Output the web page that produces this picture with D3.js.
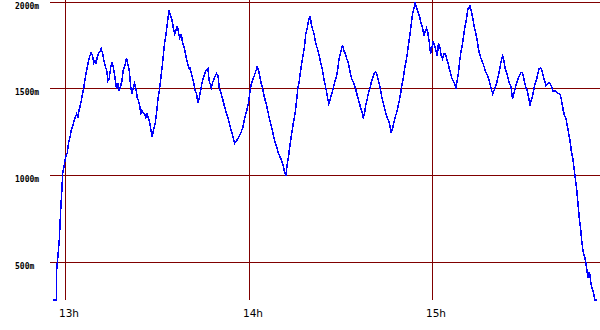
<!DOCTYPE html>
<html><head><meta charset="utf-8">
<script src="https://cdn.jsdelivr.net/npm/d3@7"></script>
<style>body{margin:0;background:#fff;overflow:hidden}</style>
</head><body>
<svg id="c" width="600" height="330"></svg>
<script>
// time in minutes after 12:00, altitude in metres
const times = [
55.9,57.1,57.1,57.5,58.0,58.4,58.9,59.1,59.5,59.9,60.2,60.6,61.0,61.5,61.9,62.6,63.2,63.7,64.1,64.3,
64.7,65.2,65.6,66.0,66.5,67.1,67.6,68.0,68.4,68.9,69.3,69.7,70.0,70.4,70.9,71.3,71.7,72.2,72.6,73.0,
73.5,73.9,74.3,74.8,75.2,75.6,76.1,76.5,76.7,77.2,77.6,78.1,78.5,78.9,79.6,80.0,80.4,80.9,81.3,81.7,
82.2,82.6,83.1,83.5,83.9,84.4,84.6,85.0,85.4,85.9,86.3,86.7,87.2,87.6,88.1,88.4,88.9,89.4,89.8,90.2,
90.7,91.1,91.6,92.0,92.4,92.9,93.3,93.7,93.9,94.4,94.8,95.3,95.7,96.1,96.6,97.0,97.4,97.9,98.3,98.7,
99.2,99.6,100.1,100.5,
100.7,101.4,102.0,102.4,102.9,103.3,103.8,104.2,104.6,105.3,105.9,106.6,107.0,107.7,108.1,108.6,109.0,109.4,109.9,110.3,
110.8,111.4,112.1,112.7,113.4,114.0,114.7,115.3,116.0,116.6,117.3,118.0,118.6,119.3,119.9,120.3,120.8,121.4,122.1,122.7,
123.2,123.8,124.5,125.1,125.8,126.5,127.1,127.8,128.4,129.1,129.7,130.4,131.0,131.7,132.1,132.5,133.0,133.4,133.8,134.5,
135.1,135.6,136.0,136.5,136.9,137.3,137.8,138.2,138.6,139.1,139.5,140.0,140.4,140.8,141.3,141.9,142.6,143.2,143.9,144.5,
145.2,145.6,146.1,146.5,
146.9,147.4,147.8,148.2,148.7,149.1,149.5,150.0,150.4,150.6,151.1,151.5,152.0,152.6,153.0,153.5,153.9,154.3,154.8,155.2,
155.6,156.1,156.5,157.0,157.4,157.8,158.3,158.7,159.1,159.6,160.0,160.5,160.9,161.3,161.8,162.2,162.6,163.1,163.5,163.9,
164.4,164.8,165.2,165.7,166.1,166.5,167.0,167.4,167.8,168.3,168.7,169.2,169.6,170.0,170.5,170.9,171.3,171.8,172.2,172.7,
173.1,173.5,174.0,174.3,174.6,175.0,175.5,175.9,176.3,176.8,177.2,177.7,178.1,178.5,179.0,179.4,179.8,180.3,180.7,181.2,
181.6,182.0,182.5,182.9,183.3,183.8,184.2,184.7,185.1,185.5,186.0,186.4,186.8,187.3,187.7,188.1,188.6,189.0,189.4,189.9,
190.3,190.7,191.2,191.6,192.0,
192.3,192.7,193.2,193.6,194.0,194.5,194.9,195.3,195.8,196.2,196.6,197.1,197.5,197.9,198.4,198.8,199.2,199.7,200.1,200.5,
201.0,201.4,201.9,202.3,202.7,203.0,203.4,203.8,204.3,204.7,205.1,205.6,206.0,206.2,206.7,207.1,207.5,208.0,208.4,208.9,
209.3,209.7,210.2,210.6,211.0,211.5,211.9,212.3,212.8,213.2,213.6,214.1,214.5,214.9,215.4,215.8,216.2,216.7,217.1,217.6,
218.0,218.4,218.9,219.3,219.7,220.2,220.6,221.1,221.5,221.9,222.4,222.8,223.2,223.7,224.1,224.5,225.0,225.4,225.9,226.3,
226.7,227.2,227.6,228.0,228.5,228.9,229.3,229.8,230.2,230.6,230.9,231.1,231.5,231.9,232.4,232.8,233.1,233.8
];
const altitudes = [
283,283,446,525,628,783,933,1013,1048,1088,1117,1128,1186,1220,1260,1301,1335,1358,1335,1364,
1393,1433,1473,1507,1565,1622,1663,1691,1709,1691,1651,1663,1645,1680,1709,1714,1732,1703,1663,1634,
1605,1548,1559,1622,1657,1634,1576,1531,1502,1531,1490,1519,1548,1605,1645,1680,1645,1605,1519,1473,
1507,1531,1496,1450,1433,1393,1352,1375,1364,1358,1335,1358,1329,1301,1249,1226,1272,1306,1358,1433,
1490,1548,1622,1691,1760,1818,1875,1933,1956,1921,1904,1852,1818,1835,1864,1824,1795,1818,1766,1749,
1709,1674,1634,1617,
1622,1576,1531,1490,1473,1421,1450,1490,1531,1576,1605,1617,1548,1507,1536,1559,1576,1588,1576,1507,
1479,1444,1393,1358,1318,1272,1232,1186,1203,1220,1243,1278,1329,1375,1421,1479,1531,1559,1594,1628,
1605,1548,1502,1450,1404,1346,1301,1249,1203,1163,1128,1099,1071,1019,1002,1059,1117,1174,1220,1301,
1358,1433,1502,1548,1605,1651,1703,1749,1818,1852,1893,1921,1875,1846,1818,1760,1720,1674,1622,1559,
1502,1462,1416,1433,
1462,1490,1519,1548,1576,1622,1674,1709,1737,1755,1720,1703,1674,1645,1605,1565,1548,1531,1507,1479,
1450,1421,1393,1364,1335,1358,1416,1444,1479,1507,1536,1565,1588,1599,1588,1559,1531,1490,1450,1421,
1387,1358,1335,1318,1289,1249,1272,1306,1335,1364,1393,1433,1473,1519,1565,1617,1651,1703,1760,1818,
1875,1933,1967,2002,1979,1962,1933,1910,1881,1852,1806,1835,1852,1824,1766,1703,1737,1778,1749,1720,
1691,1766,1737,1691,1674,1703,1703,1674,1651,1617,1588,1559,1548,1531,1502,1548,1605,1674,1720,1766,
1818,1864,1910,1962,1967,
1985,1950,1910,1864,1835,1795,1749,1709,1680,1663,1645,1617,1594,1582,1559,1531,1502,1473,1490,1507,
1531,1565,1605,1645,1674,1691,1663,1617,1594,1565,1536,1519,1473,1444,1479,1507,1531,1559,1576,1594,
1594,1576,1536,1507,1490,1450,1404,1433,1462,1502,1531,1559,1588,1617,1622,1605,1576,1548,1519,1531,
1536,1531,1519,1490,1485,1490,1479,1473,1473,1462,1416,1375,1346,1329,1289,1249,1203,1145,1099,1048,
990,916,841,760,686,611,559,531,496,444,410,444,427,370,341,312,283,283
];
const hourTicks = [60, 120, 180];
const hourLabels = ["13h", "14h", "15h"];
const altTicks = [2000, 1500, 1000, 500];
const altLabels = ["2000m", "1500m", "1000m", "500m"];

const plot = {left: 50, right: 600, top: 0, bottom: 300};
const x = d3.scaleLinear().domain([60, 180]).range([65.4, 432.4]);
const y = d3.scaleLinear().domain([500, 2000]).range([262.3, 2.3]);
const gridColor = "#800000";
const svg = d3.select("#c");

svg.append("defs").append("clipPath").attr("id", "clip")
  .append("rect").attr("x", plot.left).attr("y", plot.top)
  .attr("width", plot.right - plot.left).attr("height", plot.bottom - plot.top + 1);

const rowOf = v => Math.floor(y(v)) + 0.5;
const colOf = t => Math.round(x(t)) + 0.5;

svg.append("g").selectAll("line").data(altTicks).join("line")
  .attr("x1", plot.left).attr("x2", plot.right)
  .attr("y1", rowOf).attr("y2", rowOf)
  .attr("stroke", gridColor).attr("stroke-width", 1).attr("shape-rendering", "crispEdges");

svg.append("g").selectAll("line").data(hourTicks).join("line")
  .attr("x1", colOf).attr("x2", colOf)
  .attr("y1", plot.top).attr("y2", plot.bottom)
  .attr("stroke", gridColor).attr("stroke-width", 1).attr("shape-rendering", "crispEdges");

svg.append("g").selectAll("text").data(altTicks).join("text")
  .attr("x", 15).attr("y", d => rowOf(d) + 6)
  .attr("font-family", "'DejaVu Sans Mono', monospace").attr("font-size", 8)
  .attr("font-weight", "bold")
  .attr("fill", "#000")
  .text((d, i) => altLabels[i]);

svg.append("g").selectAll("text").data(hourTicks).join("text")
  .attr("x", d => colOf(d) - 6.5).attr("y", 317)
  .attr("font-family", "'DejaVu Sans', sans-serif").attr("font-size", 10.5)
  .attr("fill", "#000")
  .text((d, i) => hourLabels[i]);

const pts = times.map((t, i) => [t, altitudes[i]]);
const line = d3.line().x(d => x(d[0])).y(d => Math.min(y(d[1]), plot.bottom));
svg.append("path").datum(pts)
  .attr("clip-path", "url(#clip)")
  .attr("d", line)
  .attr("fill", "none").attr("stroke", "#0000ff").attr("stroke-width", 1.5)
  .attr("shape-rendering", "crispEdges");
</script>
</body></html>
